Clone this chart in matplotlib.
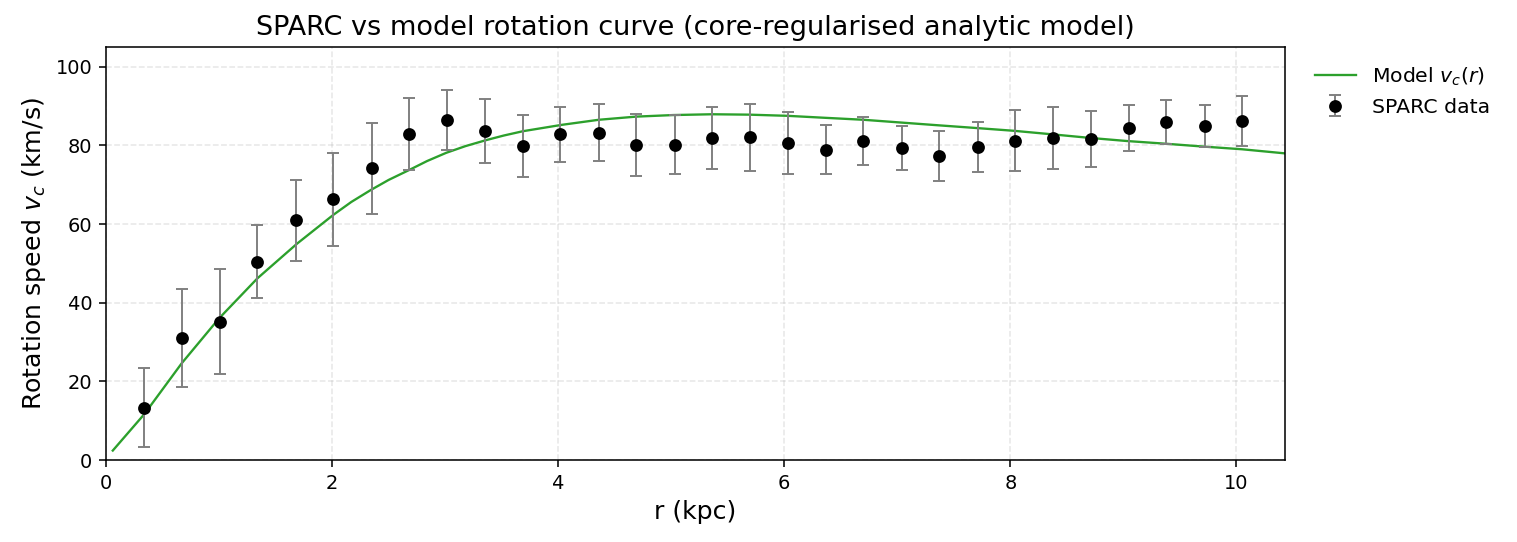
import numpy as np
import matplotlib
matplotlib.use("Agg")
import matplotlib.pyplot as plt

# SPARC data
r_data = [0.34, 0.67, 1.01, 1.34, 1.68, 2.01, 2.35, 2.68, 3.02, 3.35,
          3.69, 4.02, 4.36, 4.69, 5.03, 5.36, 5.70, 6.03, 6.37, 6.70,
          7.04, 7.37, 7.71, 8.04, 8.38, 8.71, 9.05, 9.38, 9.72, 10.05]
v_data = [13.3, 31.1, 35.2, 50.4, 60.9, 66.3, 74.2, 82.9, 86.4, 83.6,
          79.8, 82.8, 83.2, 80.0, 80.1, 81.9, 82.1, 80.6, 78.9, 81.2,
          79.4, 77.3, 79.6, 81.2, 81.9, 81.6, 84.4, 85.9, 84.9, 86.2]
v_err = [10.1, 12.5, 13.4, 9.3, 10.2, 11.8, 11.6, 9.1, 7.6, 8.1,
         7.9, 7.0, 7.3, 7.9, 7.5, 7.9, 8.5, 7.9, 6.3, 6.1,
         5.6, 6.4, 6.4, 7.8, 7.9, 7.1, 5.9, 5.5, 5.3, 6.4]

# Model curve samples
r_model = [0.06, 0.34, 0.67, 1.00, 1.34, 1.69, 2.01, 2.17, 2.34, 2.50,
           2.68, 2.84, 3.01, 3.18, 3.36, 3.52, 3.69, 3.86, 4.03, 4.36,
           4.69, 5.02, 5.36, 5.69, 6.03, 6.36, 6.70, 7.03, 7.36, 7.70,
           8.03, 8.37, 8.70, 9.03, 9.38, 9.70, 10.05, 10.45]
v_model = [2.4, 11.7, 24.6, 36.0, 46.2, 55.0, 62.3, 65.6, 68.6, 71.2,
           73.7, 76.0, 78.1, 79.8, 81.3, 82.5, 83.6, 84.4, 85.2, 86.5,
           87.3, 87.7, 87.9, 87.8, 87.5, 87.0, 86.5, 85.8, 85.1, 84.4,
           83.7, 82.8, 81.9, 81.1, 80.4, 79.7, 79.0, 77.9]

dpi = 139.6
fig = plt.figure(figsize=(1517 / dpi, 542 / dpi), dpi=dpi)
ax = fig.add_axes([106 / 1517, 1 - 460 / 542, (1285 - 106) / 1517, (460 - 47) / 542])

ax.plot(r_model, v_model, color="#2ca02c", lw=1.2, label=r"Model $v_c(r)$")
ax.errorbar(r_data, v_data, yerr=v_err, fmt="o", color="black", ms=5.6,
            ecolor="gray", elinewidth=1, capsize=3, capthick=1,
            label="SPARC data")

ax.set_xlim(0, 10.43)
ax.set_ylim(0, 105)
ax.set_xticks([0, 2, 4, 6, 8, 10])
ax.set_yticks([0, 20, 40, 60, 80, 100])
ax.grid(True, linestyle="--", alpha=0.3)
ax.set_xlabel("r (kpc)", fontsize=13)
ax.set_ylabel(r"Rotation speed $v_c$ (km/s)", fontsize=13)
ax.set_title("SPARC vs model rotation curve (core-regularised analytic model)", fontsize=14)
ax.legend(loc="upper left", bbox_to_anchor=(1.01, 1.0), frameon=False, fontsize=10.5)

fig.savefig("out.png", dpi=dpi)
